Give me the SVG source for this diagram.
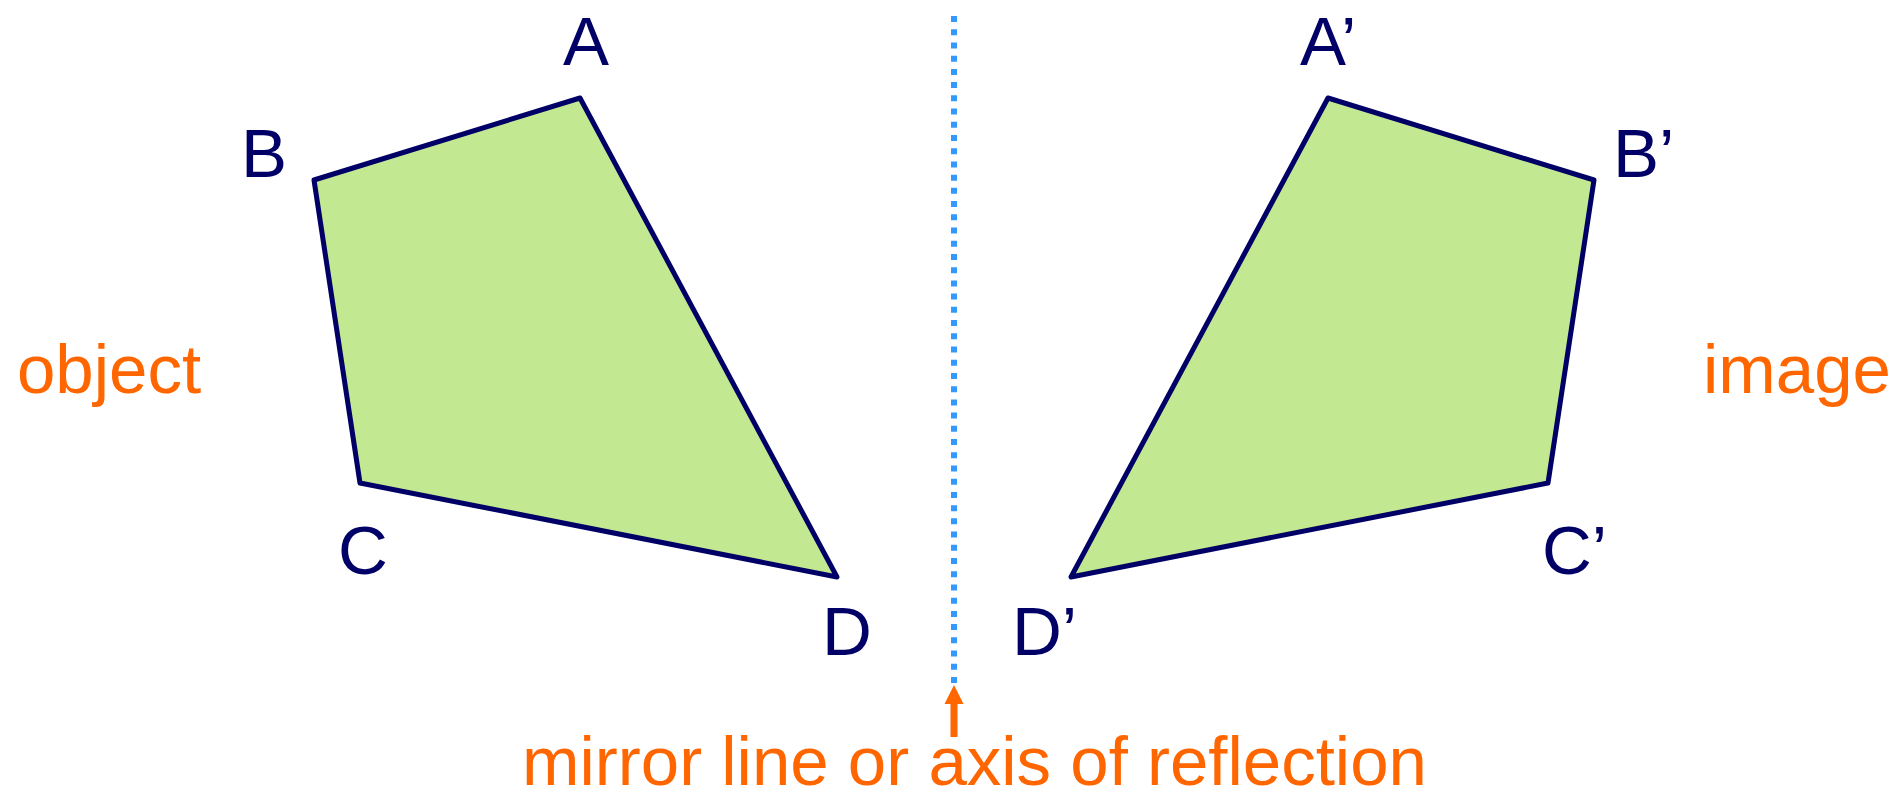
<svg xmlns="http://www.w3.org/2000/svg" width="1894" height="800" viewBox="0 0 1894 800">
<style>
.shape{fill:#c2e891;stroke:#000066;stroke-width:5;stroke-linejoin:round}
.lbl{font-family:"Liberation Sans",Arial,sans-serif;font-size:69px;fill:#000066}
.note{font-family:"Liberation Sans",Arial,sans-serif;font-size:69px;fill:#ff6600}
</style>
<rect width="1894" height="800" fill="#ffffff"/>
<g id="object-shape">
<polygon class="shape" points="580,98 314,180 360,483 837,577"/>
</g>
<g id="image-shape">
<polygon class="shape" points="1328,98 1594,180 1548,483 1071,577"/>
</g>
<g id="vertex-labels">
<text class="lbl" x="563" y="65">A</text>
<text class="lbl" x="241" y="177">B</text>
<text class="lbl" x="338" y="574">C</text>
<text class="lbl" x="822" y="655">D</text>
<text class="lbl" x="1300" y="65">A’</text>
<text class="lbl" x="1613" y="177">B’</text>
<text class="lbl" x="1542" y="574">C’</text>
<text class="lbl" x="1012" y="655">D’</text>
</g>
<g id="connectors">
<line x1="954" y1="16" x2="954" y2="683" stroke="#3399ff" stroke-width="6" stroke-dasharray="6 7.22"/>
<line x1="954" y1="700" x2="954" y2="737" stroke="#ff6600" stroke-width="7"/>
<polygon points="954,685 963.5,704 944.5,704" fill="#ff6600"/>
</g>
<g id="captions">
<text class="note" x="17" y="393">object</text>
<text class="note" x="1703" y="393">image</text>
<text class="note" x="522" y="785">mirror line or axis of reflection</text>
</g>
</svg>
